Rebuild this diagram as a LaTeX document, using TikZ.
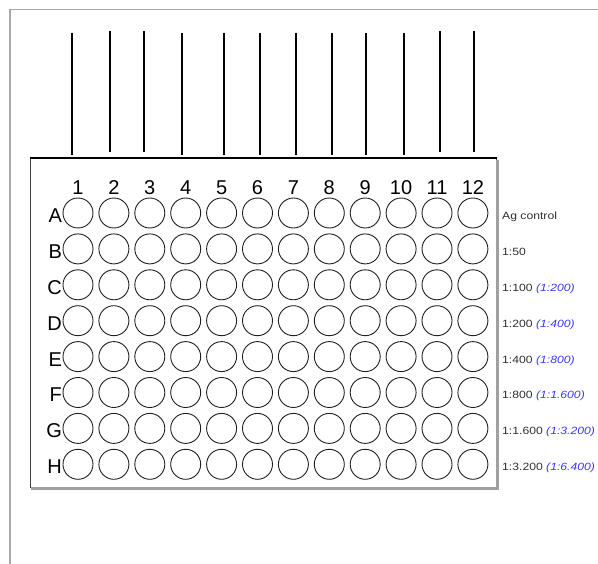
\documentclass[tikz,border=0pt]{standalone}
\usepackage{fontspec}
\setmainfont{Liberation Sans}
\definecolor{framegray}{HTML}{A8A8A8}
\definecolor{shadowgray}{HTML}{A0A0A0}
\definecolor{platedark}{HTML}{404040}
\definecolor{wellline}{HTML}{202020}
\definecolor{dilblue}{HTML}{3A3AF0}
\definecolor{labgray}{HTML}{303030}
\tikzset{
  well/.style={draw=wellline, line width=0.9pt, circle, minimum size=30pt, inner sep=0pt},
  collab/.style={font=\fontsize{20}{20}\selectfont, inner sep=0pt, anchor=base},
  rowlab/.style={font=\fontsize{20}{20}\selectfont, inner sep=0pt, anchor=base east},
  dil/.style={font=\fontsize{10.5}{11}\selectfont, text=labgray, inner sep=0pt, anchor=base west},
  tube/.style={draw=black, line width=1.1pt}
}
\newcommand{\alt}[1]{\textcolor{dilblue}{\itshape #1}}
\newcommand{\widen}[1]{\scalebox{1.16}[1]{#1}}
\begin{document}
\begin{tikzpicture}[x=1pt,y=-1pt]
\useasboundingbox (0,0) rectangle (598,564);
% outer frame
\draw[framegray, line width=1.2pt] (10,564) -- (10,9.5) -- (598,9.5);
% plate
\node[draw=platedark, line width=1.2pt, minimum width=466pt, minimum height=329pt, inner sep=0pt, anchor=north west] (plate) at (30,158) {};
\draw[shadowgray, line width=3pt] ([yshift=-2pt]plate.north east) -- (plate.south east) -- ([xshift=1pt]plate.south west);
\draw[black, line width=1.2pt] (plate.north west) -- (plate.north east);
% wells
\foreach \r [count=\i] in {A,B,C,D,E,F,G,H}{
  \foreach \c in {1,...,12}{
    \node[well] (w\r\c) at ({78+(\c-1)*35.9},{213+(\i-1)*35.9}) {};
  }
  \node[rowlab] (r\r) at ([xshift=-0.5pt,yshift=-9.5pt]w\r1.west) {\r};
}
% column labels and tubes
\foreach \c/\xx/\ya/\yb in {1/72/33/155,2/110/31/152,3/144/31/152,4/182/33/155,5/224/33/155,6/260/33/155,7/296/33/155,8/332/33/155,9/366/33/155,10/404/33/155,11/440/31/152,12/474/31/152}{
  \node[collab] (c\c) at ({78+(\c-1)*35.9},195) {\c};
  \coordinate (t\c) at (\xx,\ya);
  \coordinate (b\c) at (\xx,\yb);
  \draw[tube] (t\c) -- (b\c);
}
% dilution labels
\foreach \r/\txt in {A/{Ag control},B/{1:50},C/{1:100 \alt{(1:200)}},D/{1:200 \alt{(1:400)}},E/{1:400 \alt{(1:800)}},F/{1:800 \alt{(1:1.600)}},G/{1:1.600 \alt{(1:3.200)}},H/{1:3.200 \alt{(1:6.400)}}}{
  \node[dil] (d\r) at (502,0 |- w\r12.center) [yshift=-6.5pt] {\widen{\txt}};
}
\end{tikzpicture}
\end{document}
